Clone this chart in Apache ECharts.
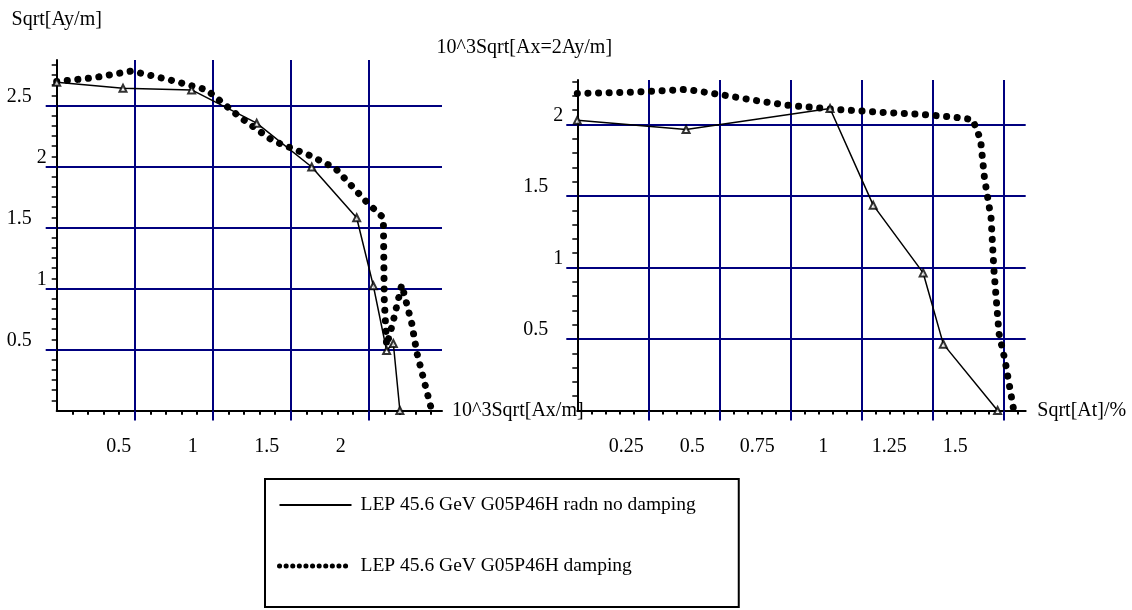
<html>
<head>
	<meta charset="utf-8">
	<title>LEP 45.6 GeV G05P46H</title>
	<script src="https://cdn.jsdelivr.net/npm/echarts@6/dist/echarts.min.js"></script>
	<style type="text/css">
		html, body { margin: 0; padding: 0; background: #fff; }
	</style>
</head>
	<body>
		<div id="chart" style="width:1132px;height:610px"></div>
	<script type="text/javascript">
		// left plot: Ay vs Ax
		var leftSolidX = [0, 0.425, 0.865, 1.282, 1.635, 1.923, 2.03, 2.115, 2.158, 2.2];
		var leftSolidY = [2.69, 2.641, 2.628, 2.355, 1.996, 1.58, 1.022, 0.492, 0.549, 0];
		var leftDotX = [0, 0.239, 0.481, 0.722, 0.962, 1.169, 1.385, 1.619, 1.784, 1.987, 2.094, 2.1, 2.115, 2.154, 2.212, 2.276, 2.308, 2.35, 2.404];
		var leftDotY = [2.696, 2.728, 2.783, 2.71, 2.628, 2.41, 2.212, 2.092, 1.988, 1.708, 1.58, 0.906, 0.533, 0.715, 1.031, 0.715, 0.478, 0.269, 0];
		// right plot: Ax=2Ay vs At
		var rightSolidX = [0, 0.383, 0.89, 1.042, 1.218, 1.289, 1.48];
		var rightSolidY = [2.03, 1.965, 2.112, 1.436, 0.962, 0.464, 0];
		var rightDotX = [0, 0.2, 0.385, 0.502, 0.62, 0.737, 0.89, 1.042, 1.202, 1.318, 1.392, 1.42, 1.434, 1.457, 1.467, 1.485, 1.506, 1.537];
		var rightDotY = [2.217, 2.226, 2.245, 2.21, 2.17, 2.135, 2.109, 2.088, 2.072, 2.053, 2.035, 1.895, 1.622, 1.347, 0.986, 0.538, 0.352, 0];
		// tick labels
		var leftXTicks = [0.5, 1, 1.5, 2];
		var leftYTicks = [0.5, 1, 1.5, 2, 2.5];
		var rightXTicks = [0.25, 0.5, 0.75, 1, 1.25, 1.5];
		var rightYTicks = [0.5, 1, 1.5, 2];

		var NAME_SOLID = 'LEP 45.6 GeV G05P46H radn no damping';
		var NAME_DOT = 'LEP 45.6 GeV G05P46H damping';
		var FONT = '"Liberation Serif", "Times New Roman", serif';
		var NAVY = '#00007f';
		var txt = {fontFamily: FONT, fontSize: 20, color: '#000'};

		function pairs(xs, ys) {
			var out = [];
			for (var i = 0; i < xs.length; i++) out.push([xs[i], ys[i]]);
			return out;
		}
		function yLabel(v) {
			var s = String(v);
			return s.length > 1 ? '{w|' + s + '}' : s;
		}
		// x labels in the original sit left of their grid lines, more so further right
		function xLabelStyle(ticks, a, b) {
			var rich = {};
			for (var i = 0; i < ticks.length; i++) {
				var shift = Math.round(a + b * ticks[i]);
				rich['s' + i] = Object.assign({padding: [0, 2 * shift, 0, 0]}, txt);
			}
			return {
				rich: rich,
				formatter: function (v) {
					var i = ticks.indexOf(v);
					return i < 0 ? String(v) : '{s' + i + '|' + v + '}';
				}
			};
		}

		function mainX(grid, max, interval, minor, ticks, name, nameGap, namePad, shiftA, shiftB) {
			var lab = xLabelStyle(ticks, shiftA, shiftB);
			return {
				type: 'value', gridIndex: grid, min: 0, max: max, interval: interval,
				name: name, nameLocation: 'end', nameGap: nameGap,
				nameTextStyle: Object.assign({align: 'left', verticalAlign: 'middle', padding: namePad}, txt),
				axisLine: {show: true, onZero: false, lineStyle: {color: '#000', width: 2}},
				axisTick: {show: true, length: 10, customValues: ticks, lineStyle: {color: NAVY, width: 2}},
				minorTick: {show: true, splitNumber: minor, length: 4, lineStyle: {color: '#000', width: 2}},
				axisLabel: Object.assign({customValues: ticks, margin: 26, formatter: lab.formatter, rich: lab.rich}, txt),
				splitLine: {show: true, showMinLine: true, showMaxLine: true, lineStyle: {color: NAVY, width: 2}}
			};
		}
		function hatchX(grid, max, interval, minor) {
			return {
				type: 'value', gridIndex: grid, min: 0, max: max, interval: interval,
				axisLine: {show: false},
				axisTick: {show: true, inside: true, length: 0, lineStyle: {width: 0, opacity: 0}},
				minorTick: {show: true, splitNumber: minor, length: 4, lineStyle: {color: '#000', width: 2}},
				axisLabel: {show: false}, splitLine: {show: false}
			};
		}
		function mainY(grid, max, ticks, name, nameGap, namePad, labelMargin) {
			return {
				type: 'value', gridIndex: grid, min: 0, max: max, interval: 0.5,
				name: name, nameLocation: 'end', nameGap: nameGap,
				nameTextStyle: Object.assign({align: 'center', verticalAlign: 'bottom', padding: namePad}, txt),
				axisLine: {show: true, onZero: false, lineStyle: {color: '#000', width: 2}},
				axisTick: {show: true, length: 11, customValues: ticks, lineStyle: {color: NAVY, width: 2}},
				axisLabel: Object.assign({customValues: ticks, margin: labelMargin, padding: [0, 0, 18, 0],
					formatter: yLabel, rich: {w: Object.assign({padding: [0, 15, 0, 0]}, txt)}}, txt),
				splitLine: {show: true, showMinLine: true, showMaxLine: true, lineStyle: {color: NAVY, width: 2}}
			};
		}
		function hatchY(grid, max, minor) {
			return {
				type: 'value', gridIndex: grid, min: 0, max: max, interval: 0.5,
				axisLine: {show: false},
				axisTick: {show: true, inside: true, length: 0, lineStyle: {width: 0, opacity: 0}},
				minorTick: {show: true, splitNumber: minor, length: 5, lineStyle: {color: '#000', width: 1.5}},
				axisLabel: {show: false}, splitLine: {show: false}
			};
		}

		function solid(xi, yi, data) {
			return {name: NAME_SOLID, type: 'line', xAxisIndex: xi, yAxisIndex: yi, data: data,
				symbol: 'none', clip: false, z: 4, lineStyle: {color: '#000', width: 1.5}};
		}
		function marks(xi, yi, data) {
			return {type: 'scatter', xAxisIndex: xi, yAxisIndex: yi, data: data, z: 5,
				symbol: 'emptyTriangle', symbolSize: 7, clip: false,
				itemStyle: {color: '#000', borderColor: '#000', borderWidth: 1.2}};
		}
		function dotted(xi, yi, data) {
			return {name: NAME_DOT, type: 'line', xAxisIndex: xi, yAxisIndex: yi, data: data,
				symbol: 'none', clip: false, z: 3,
				lineStyle: {color: '#000', width: 7, type: [0.1, 10.5], cap: 'round'}};
		}

		var myChart = echarts.init(document.getElementById('chart'), null, {renderer: 'canvas'});
		var option = {
			animation: false,
			backgroundColor: '#fff',
			grid: [
				{left: 56.7, top: 60, width: 385.3, height: 350.5, outerBoundsMode: 'none'},
				{left: 577.3, top: 80, width: 448.4, height: 330.5, outerBoundsMode: 'none'}
			],
			xAxis: [
				mainX(0, 2.47, 0.5, 5, leftXTicks, '10^3Sqrt[Ax/m]', 10, [0, 0, 15, 0], 12.6, 7.6),
				mainX(1, 1.579, 0.25, 5, rightXTicks, 'Sqrt[At]/%', 11.6, [0, 0, 11, 0], 16.9, 21),
				hatchX(0, 2.47, 0.5, 5),
				hatchX(1, 1.579, 0.25, 5)
			],
			yAxis: [
				mainY(0, 2.873, leftYTicks, 'Sqrt[Ay/m]', 30, [0, 0, 0, 0], 10),
				mainY(1, 2.311, rightYTicks, '10^3Sqrt[Ax=2Ay/m]', 22, [0, 106, 0, 0], 14),
				hatchY(0, 2.873, 6),
				hatchY(1, 2.311, 5)
			],
			legend: {
				left: 265, top: 479, orient: 'vertical',
				itemWidth: 72, itemHeight: 14, itemGap: 41,
				padding: [16, 43, 31, 12],
				borderColor: '#000', borderWidth: 2,
				selectedMode: false,
				textStyle: Object.assign({padding: [0, 0, 0, 4]}, txt, {fontSize: 19.5}),
				data: [
					{name: NAME_SOLID, itemStyle: {opacity: 0}, lineStyle: {color: '#000', width: 2}},
					{name: NAME_DOT, itemStyle: {opacity: 0},
						lineStyle: {color: '#000', width: 5, type: [0.1, 6.5], cap: 'round'}}
				]
			},
			series: [
				solid(0, 0, pairs(leftSolidX, leftSolidY)),
				marks(0, 0, pairs(leftSolidX, leftSolidY)),
				dotted(0, 0, pairs(leftDotX, leftDotY)),
				solid(1, 1, pairs(rightSolidX, rightSolidY)),
				marks(1, 1, pairs(rightSolidX, rightSolidY)),
				dotted(1, 1, pairs(rightDotX, rightDotY))
			]
		};
		myChart.setOption(option);
	</script>
	</body>
</html>
